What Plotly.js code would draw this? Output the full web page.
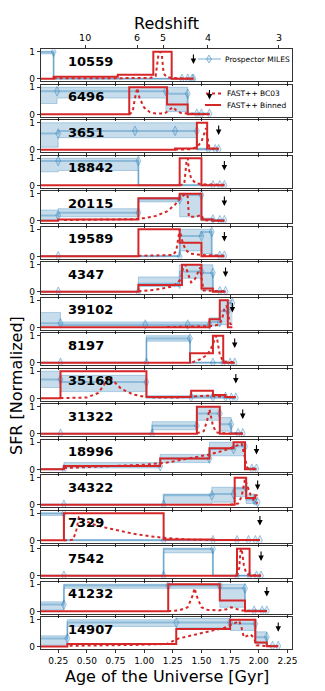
<!DOCTYPE html>
<html>
<head>
<meta charset="utf-8">
<script src="https://cdn.plot.ly/plotly-3.0.1.min.js"></script>
<style>body{margin:0;background:#fff}</style>
</head>
<body>
<div id="plot" style="width:325px;height:691px"></div>
<script>
// galaxy ids, top to bottom
const ids = ['10559', '6496', '3651', '18842', '20115', '19589', '4347', '39102', '8197',
             '35168', '31322', '18996', '34322', '7329', '7542', '41232', '14907'];

// age of the universe at observation (arrow), Gyr
const obsAge = [1.43, 1.57, 1.65, 1.70, 1.70, 1.70, 1.71, 1.77, 1.79, 1.80, 1.86, 1.98, 1.99, 2.01, 2.02, 2.07, 2.17];

// Prospector MILES: bin edges, median, 16th / 84th percentile
const blueEdges = [
  [0.05, 0.21, 1.33, 1.38, 1.42, 1.43],
  [0.05, 0.24, 1.19, 1.38, 1.46, 1.50, 1.57],
  [0.05, 0.25, 0.92, 1.27, 1.46, 1.56, 1.62, 1.65],
  [0.05, 0.25, 0.95, 1.60, 1.66, 1.70],
  [0.05, 0.25, 0.95, 1.31, 1.50, 1.60, 1.66, 1.70],
  [0.05, 0.25, 1.31, 1.50, 1.59, 1.66, 1.70],
  [0.05, 0.25, 0.95, 1.31, 1.50, 1.60, 1.66, 1.71],
  [0.05, 0.27, 1.01, 1.38, 1.57, 1.66, 1.73, 1.77],
  [0.05, 0.27, 1.02, 1.40, 1.60, 1.69, 1.75, 1.79],
  [0.05, 0.27, 1.02, 1.41, 1.60, 1.71, 1.76, 1.80],
  [0.05, 0.27, 1.07, 1.46, 1.66, 1.76, 1.82, 1.86],
  [0.05, 0.30, 1.14, 1.57, 1.78, 1.88, 1.94, 1.98],
  [0.05, 0.30, 1.17, 1.59, 1.78, 1.89, 1.96, 1.99],
  [0.05, 0.30, 1.17, 1.60, 1.81, 1.91, 1.97, 2.01],
  [0.05, 0.30, 1.17, 1.60, 1.81, 1.92, 1.98, 2.02],
  [0.05, 0.30, 1.21, 1.66, 1.88, 1.96, 2.03, 2.07],
  [0.05, 0.33, 1.28, 1.75, 1.97, 2.07, 2.12, 2.17]
];
const blueMed = [
  [1, 0, 0, 0, 0],
  [0.85, 0.85, 0.76, 0.02, 0.02, 0.02],
  [0.6, 0.7, 0.7, 0.7, 0.02, 0.02, 0.02],
  [0.9, 0.9, 0, 0, 0],
  [0.2, 0.3, 0.8, 0.95, 0.05, 0.02, 0.02],
  [0, 0, 0.75, 0.9, 0.02, 0.02],
  [0, 0, 0.3, 0.75, 0.7, 0.02, 0.02],
  [0.15, 0.1, 0.1, 0.1, 0.2, 0.6, 0.9],
  [0, 0, 0.9, 0, 0, 0, 0],
  [0.7, 0.6, 0.05, 0.05, 0.05, 0.02, 0.02],
  [0, 0, 0.3, 0.75, 0.35, 0.02, 0.02],
  [0, 0.12, 0.4, 0.75, 0.85, 0.02, 0.02],
  [0, 0, 0.35, 0.4, 0.6, 0.2, 0.1],
  [1, 0, 0, 0, 0, 0, 0],
  [0, 0, 1, 0, 0, 0, 0],
  [0.25, 0.95, 0.95, 0.85, 0.02, 0.02, 0.02],
  [0.3, 0.9, 0.9, 0.85, 0.35, 0.02, 0.02]
];
const blueLo = [
  [0.92, 0, 0, 0, 0],
  [0.4, 0.6, 0.1, 0, 0, 0],
  [0.1, 0.45, 0.45, 0.45, 0, 0, 0],
  [0.5, 0.55, 0, 0, 0],
  [0.05, 0.15, 0.7, 0.15, 0, 0, 0],
  [0, 0, 0.2, 0.1, 0, 0],
  [0, 0, 0.2, 0.5, 0.05, 0, 0],
  [0.05, 0.05, 0.05, 0.05, 0.05, 0.1, 0.1],
  [0, 0, 0.8, 0, 0, 0, 0],
  [0.4, 0.25, 0, 0, 0, 0, 0],
  [0, 0, 0.15, 0.5, 0.1, 0, 0],
  [0, 0.05, 0.25, 0.5, 0.5, 0, 0],
  [0, 0, 0, 0.1, 0.3, 0.05, 0],
  [0.92, 0, 0, 0, 0, 0, 0],
  [0, 0, 0.85, 0, 0, 0, 0],
  [0.05, 0.85, 0.85, 0.15, 0, 0, 0],
  [0.05, 0.75, 0.7, 0.6, 0.1, 0, 0]
];
const blueHi = [
  [1, 0.01, 0.02, 0.02, 0.02],
  [1, 1, 1, 0.05, 0.05, 0.05],
  [1, 1, 1, 1, 0.06, 0.05, 0.05],
  [1, 1, 0.02, 0.02, 0.02],
  [0.4, 0.45, 0.85, 1, 0.1, 0.05, 0.05],
  [0.02, 0.02, 1, 1, 0.05, 0.05],
  [0.02, 0.02, 0.55, 1, 1, 0.05, 0.05],
  [0.55, 0.2, 0.2, 0.2, 0.35, 1, 1],
  [0.02, 0.02, 1, 0.02, 0.02, 0.02, 0.02],
  [1, 0.85, 0.1, 0.12, 0.1, 0.05, 0.05],
  [0.02, 0.02, 0.45, 1, 0.6, 0.05, 0.05],
  [0.02, 0.25, 0.55, 1, 1, 0.05, 0.05],
  [0.02, 0.02, 0.4, 0.65, 0.65, 0.4, 0.2],
  [1, 0.02, 0.02, 0.02, 0.02, 0.02, 0.02],
  [0.02, 0.02, 1, 0.02, 0.02, 0.02, 0.02],
  [0.35, 1, 1, 1, 0.05, 0.05, 0.05],
  [0.4, 1, 1.05, 1, 0.55, 0.05, 0.05]
];

// FAST++ binned SFH
const redEdges = [
  [0.05, 0.21, 0.77, 1.08, 1.24, 1.43],
  [0.05, 0.87, 1.20, 1.38, 1.57],
  [0.05, 1.27, 1.46, 1.55, 1.65],
  [0.05, 1.31, 1.50, 1.70],
  [0.05, 0.25, 0.95, 1.31, 1.50, 1.60, 1.70],
  [0.05, 0.95, 1.31, 1.50, 1.70],
  [0.05, 0.95, 1.33, 1.50, 1.60, 1.71],
  [0.05, 1.57, 1.66, 1.73, 1.77],
  [0.05, 1.40, 1.60, 1.69, 1.79],
  [0.05, 0.27, 1.02, 1.41, 1.60, 1.71, 1.80],
  [0.05, 1.46, 1.66, 1.86],
  [0.05, 0.30, 1.14, 1.57, 1.78, 1.88, 1.98],
  [0.05, 1.79, 1.89, 1.97, 1.99],
  [0.05, 0.30, 1.17, 1.60, 2.01],
  [0.05, 1.81, 1.92, 2.02],
  [0.05, 1.21, 1.66, 1.88, 2.07],
  [0.05, 0.33, 1.28, 1.75, 1.97, 2.07, 2.17]
];
const redVals = [
  [0, 0.08, 0.15, 1, 0],
  [0, 1, 0.36, 0],
  [0, 0.05, 1, 0.05],
  [0, 1, 0],
  [0, 0.05, 0.83, 1, 0.05, 0],
  [0, 1, 0.5, 0],
  [0, 0.25, 1, 0.12, 0],
  [0, 0.3, 1, 0],
  [0, 0.35, 1, 0],
  [0, 1, 0.05, 0.28, 0.12, 0.05],
  [0, 1, 0],
  [0, 0.12, 0.4, 0.78, 1, 0],
  [0, 1, 0.25, 0.35],
  [0, 1, 0.03, 0.01],
  [0, 1, 0],
  [0, 1, 0.4, 0],
  [0, 0.1, 0.65, 1, 0.15, 0.01]
];

// FAST++ BC03 continuous SFH (dotted)
const bcAge = [
  [0.21, 0.7, 1.05, 1.10, 1.125, 1.14, 1.155, 1.17, 1.2, 1.3, 1.43],
  [0.87, 0.9, 0.92, 0.94, 0.96, 1.0, 1.05, 1.1, 1.18, 1.22, 1.25, 1.28, 1.32, 1.4, 1.57],
  [1.27, 1.4, 1.46, 1.5, 1.52, 1.54, 1.55, 1.57, 1.65],
  [1.31, 1.35, 1.37, 1.38, 1.39, 1.41, 1.45, 1.5, 1.7],
  [0.3, 0.6, 0.9, 1.0, 1.1, 1.2, 1.27, 1.32, 1.36, 1.38, 1.39, 1.45, 1.5, 1.52, 1.7],
  [0.95, 1.1, 1.25, 1.28, 1.3, 1.31, 1.33, 1.36, 1.4, 1.5, 1.7],
  [0.95, 1.1, 1.25, 1.32, 1.34, 1.36, 1.38, 1.41, 1.44, 1.47, 1.49, 1.5, 1.52, 1.71],
  [1.2, 1.5, 1.6, 1.65, 1.68, 1.7, 1.72, 1.73, 1.75, 1.77],
  [1.42, 1.5, 1.55, 1.58, 1.6, 1.62, 1.63, 1.64, 1.66, 1.69, 1.79],
  [0.27, 0.5, 0.6, 0.65, 0.69, 0.73, 0.8, 0.9, 1.0, 1.1, 1.3, 1.45, 1.55, 1.65, 1.8],
  [1.46, 1.52, 1.55, 1.57, 1.58, 1.6, 1.63, 1.7, 1.86],
  [0.3, 0.5, 0.75, 1.0, 1.2, 1.4, 1.57, 1.7, 1.8, 1.85, 1.87, 1.9, 1.98],
  [1.75, 1.82, 1.85, 1.87, 1.88, 1.9, 1.93, 1.96, 1.99],
  [0.30, 0.38, 0.41, 0.43, 0.47, 0.55, 0.65, 0.75, 0.9, 1.05, 1.2, 1.4, 1.6, 2.01],
  [1.81, 1.83, 1.84, 1.85, 1.86, 1.87, 1.89, 1.92, 2.02],
  [1.21, 1.3, 1.38, 1.42, 1.44, 1.46, 1.5, 1.55, 1.65, 1.72, 1.76, 1.8, 1.85, 2.07],
  [0.35, 0.6, 0.9, 1.2, 1.3, 1.45, 1.6, 1.7, 1.78, 1.83, 1.85, 1.87, 1.9, 1.93, 1.96, 1.98, 2.05, 2.17]
];
const bcSfr = [
  [0.02, 0.02, 0.03, 0.1, 0.9, 1.0, 0.85, 0.2, 0.05, 0.02, 0.01],
  [0, 0.1, 0.6, 0.97, 0.6, 0.25, 0.08, 0.03, 0.03, 0.15, 0.27, 0.15, 0.05, 0.02, 0.01],
  [0.01, 0.02, 0.1, 0.3, 0.55, 0.8, 0.5, 0.05, 0.02],
  [0, 0.05, 0.9, 1.0, 0.6, 0.25, 0.08, 0.04, 0.02],
  [0.03, 0.04, 0.06, 0.1, 0.18, 0.35, 0.6, 0.85, 1.0, 0.9, 0.15, 0.15, 0.22, 0.02, 0.01],
  [0.02, 0.03, 0.05, 0.2, 0.7, 1.0, 0.6, 0.25, 0.1, 0.05, 0.02],
  [0.02, 0.08, 0.2, 0.45, 0.9, 1.0, 0.7, 0.35, 0.45, 0.75, 0.9, 0.5, 0.05, 0.02],
  [0.01, 0.02, 0.05, 0.1, 0.3, 0.7, 0.8, 0.5, 0.15, 0.05],
  [0.02, 0.15, 0.3, 0.5, 0.7, 0.9, 1.0, 0.8, 0.3, 0.05, 0.02],
  [0.01, 0.03, 0.2, 0.5, 0.8, 0.65, 0.35, 0.15, 0.06, 0.03, 0.03, 0.07, 0.1, 0.07, 0.03],
  [0.02, 0.1, 0.5, 0.9, 0.7, 0.3, 0.05, 0.02, 0.01],
  [0.05, 0.08, 0.12, 0.17, 0.25, 0.4, 0.55, 0.7, 0.85, 0.95, 0.6, 0.05, 0.02],
  [0, 0.05, 0.3, 0.7, 0.95, 0.7, 0.35, 0.15, 0.05],
  [0, 0.02, 0.4, 0.85, 0.75, 0.6, 0.48, 0.38, 0.25, 0.15, 0.08, 0.03, 0.01, 0.01],
  [0, 0.3, 0.9, 1.0, 0.7, 0.4, 0.1, 0.03, 0.01],
  [0.01, 0.03, 0.15, 0.55, 0.85, 0.55, 0.15, 0.06, 0.03, 0.08, 0.15, 0.1, 0.03, 0.01],
  [0.03, 0.04, 0.06, 0.1, 0.3, 0.45, 0.6, 0.7, 0.85, 0.95, 0.7, 0.35, 0.4, 0.45, 0.3, 0.05, 0.02, 0.01]
];

// top axis: redshift ticks and the ages they sit at
const zLabels = ['10', '6', '5', '4', '3'];
const zAge = [0.485, 0.938, 1.165, 1.557, 2.176];

const ageTicks = [0.25, 0.5, 0.75, 1.0, 1.25, 1.5, 1.75, 2.0, 2.25];
const ageLabels = ['0.25', '0.50', '0.75', '1.00', '1.25', '1.50', '1.75', '2.00', '2.25'];

const BLUE = '#1f77b4';
const RED = '#d62728';
const FONT = 'DejaVu Sans, sans-serif';

// pixel helpers for the plot area (left 41, right 292, top 49, bottom 649)
const L = 41, R = 292, T = 49, B = 649;
const px = v => (v - L) / (R - L);
const py = v => (B - v) / (B - T);

function step(vals) {
    return vals.concat([vals[vals.length - 1]]);
}

const traces = [];
const layout = {
    width: 325, height: 691,
    margin: {l: L, r: 325 - R, t: T, b: 691 - B},
    paper_bgcolor: '#fff', plot_bgcolor: '#fff',
    showlegend: false,
    font: {family: FONT, size: 9, color: '#000'},
    annotations: [],
    shapes: []
};

for (let i = 0; i < ids.length; i++) {
    const n = i === 0 ? '' : String(i + 1);
    const xa = 'x' + n, ya = 'y' + n;

    // panel geometry in pixels
    const top = 49.3 + 35.5 * i;
    const bot = top + 32;

    layout['xaxis' + n] = {
        anchor: ya, domain: [0, 1], range: [0.1, 2.29],
        tickvals: ageTicks, ticktext: ageLabels,
        showticklabels: i === ids.length - 1,
        ticks: 'outside', ticklen: 3.5, tickwidth: 0.8, tickcolor: '#000',
        showline: true, mirror: true, linecolor: '#000', linewidth: 0.8,
        showgrid: false, zeroline: false,
        tickfont: {size: 9}
    };
    layout['yaxis' + n] = {
        anchor: xa, domain: [Math.max(0, py(bot)), Math.min(1, py(top))],
        range: [-0.09, 1.09],
        tickvals: [0, 1], ticktext: ['0', '1'],
        ticks: 'outside', ticklen: 3.5, tickwidth: 0.8, tickcolor: '#000',
        showline: true, mirror: true, linecolor: '#000', linewidth: 0.8,
        showgrid: false, zeroline: false,
        tickfont: {size: 9}
    };

    const e = blueEdges[i];
    traces.push({
        x: e, y: step(blueLo[i]), xaxis: xa, yaxis: ya,
        mode: 'lines', line: {shape: 'hv', color: 'rgba(31,119,180,0.3)', width: 1},
        hoverinfo: 'skip'
    });
    traces.push({
        x: e, y: step(blueHi[i]), xaxis: xa, yaxis: ya,
        mode: 'lines', line: {shape: 'hv', color: 'rgba(31,119,180,0.3)', width: 1},
        fill: 'tonexty', fillcolor: 'rgba(31,119,180,0.25)',
        hoverinfo: 'skip'
    });
    traces.push({
        x: e, y: step(blueMed[i]), xaxis: xa, yaxis: ya,
        mode: 'lines', line: {shape: 'hv', color: 'rgba(31,119,180,0.35)', width: 2}
    });
    traces.push({
        x: e.slice(1), y: blueMed[i], xaxis: xa, yaxis: ya,
        mode: 'markers',
        marker: {symbol: 'diamond-tall', size: 7, color: 'rgba(31,119,180,0.12)',
                 line: {color: 'rgba(31,119,180,0.4)', width: 1}}
    });
    traces.push({
        x: bcAge[i], y: bcSfr[i], xaxis: xa, yaxis: ya,
        mode: 'lines', line: {color: RED, width: 2, dash: 'dot'}
    });
    traces.push({
        x: redEdges[i], y: step(redVals[i]), xaxis: xa, yaxis: ya,
        mode: 'lines', line: {shape: 'hv', color: RED, width: 2}
    });

    // galaxy id
    layout.annotations.push({
        xref: xa, yref: ya + ' domain', x: 0.32, y: 0.62,
        xanchor: 'left', yanchor: 'middle', showarrow: false,
        text: '<b>' + ids[i] + '</b>', font: {family: FONT, size: 13, color: '#000'}
    });
    // observation arrow
    layout.annotations.push({
        xref: xa, yref: ya, axref: xa, ayref: ya,
        x: obsAge[i], y: 0.55, ax: obsAge[i], ay: 0.95,
        text: '', showarrow: true, arrowhead: 2, arrowsize: 1,
        arrowwidth: 1.1, arrowcolor: '#000'
    });
}

// redshift axis on top of the first panel
layout.xaxis18 = {
    overlaying: 'x', anchor: 'y', side: 'top', range: [0.1, 2.29],
    tickvals: zAge, ticktext: zLabels,
    ticks: 'outside', ticklen: 3.5, tickwidth: 0.8, tickcolor: '#000',
    showline: false, showgrid: false, zeroline: false,
    tickfont: {size: 9.5}
};
traces.push({x: [], y: [], xaxis: 'x18', yaxis: 'y', mode: 'markers', hoverinfo: 'skip'});

// titles
layout.annotations.push({
    xref: 'paper', yref: 'paper', x: 0.5, y: py(24), xanchor: 'center', yanchor: 'middle',
    showarrow: false, text: 'Redshift', font: {family: FONT, size: 16}
});
layout.annotations.push({
    xref: 'paper', yref: 'paper', x: 0.5, y: py(676), xanchor: 'center', yanchor: 'middle',
    showarrow: false, text: 'Age of the Universe [Gyr]', font: {family: FONT, size: 16}
});
layout.annotations.push({
    xref: 'paper', yref: 'paper', x: px(16), y: py(386), xanchor: 'center', yanchor: 'middle',
    showarrow: false, textangle: -90, text: 'SFR [Normalized]', font: {family: FONT, size: 16}
});

// legend (drawn by hand so the rows can sit tight)
const legFont = {family: FONT, size: 7.5, color: '#000'};
layout.shapes.push({type: 'line', xref: 'paper', yref: 'paper',
    x0: px(198), x1: px(221), y0: py(59), y1: py(59),
    line: {color: 'rgba(31,119,180,0.4)', width: 1.5}});
layout.shapes.push({type: 'path', xref: 'paper', yref: 'paper',
    path: 'M' + px(209) + ',' + py(55) + ' L' + px(211.5) + ',' + py(59) + ' L' + px(209) + ',' + py(63) +
          ' L' + px(206.5) + ',' + py(59) + ' Z',
    fillcolor: 'rgba(31,119,180,0.15)', line: {color: 'rgba(31,119,180,0.45)', width: 1}});
layout.annotations.push({xref: 'paper', yref: 'paper', x: px(223), y: py(59),
    xanchor: 'left', yanchor: 'middle', showarrow: false, text: 'Prospector MILES', font: legFont});

layout.shapes.push({type: 'line', xref: 'paper', yref: 'paper',
    x0: px(206), x1: px(221), y0: py(93.5), y1: py(93.5),
    line: {color: RED, width: 2, dash: 'dot'}});
layout.annotations.push({xref: 'paper', yref: 'paper', x: px(225), y: py(93.5),
    xanchor: 'left', yanchor: 'middle', showarrow: false, text: 'FAST++ BC03', font: legFont});
layout.shapes.push({type: 'line', xref: 'paper', yref: 'paper',
    x0: px(205), x1: px(221), y0: py(105), y1: py(105),
    line: {color: RED, width: 2}});
layout.annotations.push({xref: 'paper', yref: 'paper', x: px(225), y: py(105),
    xanchor: 'left', yanchor: 'middle', showarrow: false, text: 'FAST++ Binned', font: legFont});

Plotly.newPlot('plot', traces, layout, {staticPlot: true});
</script>
</body>
</html>
